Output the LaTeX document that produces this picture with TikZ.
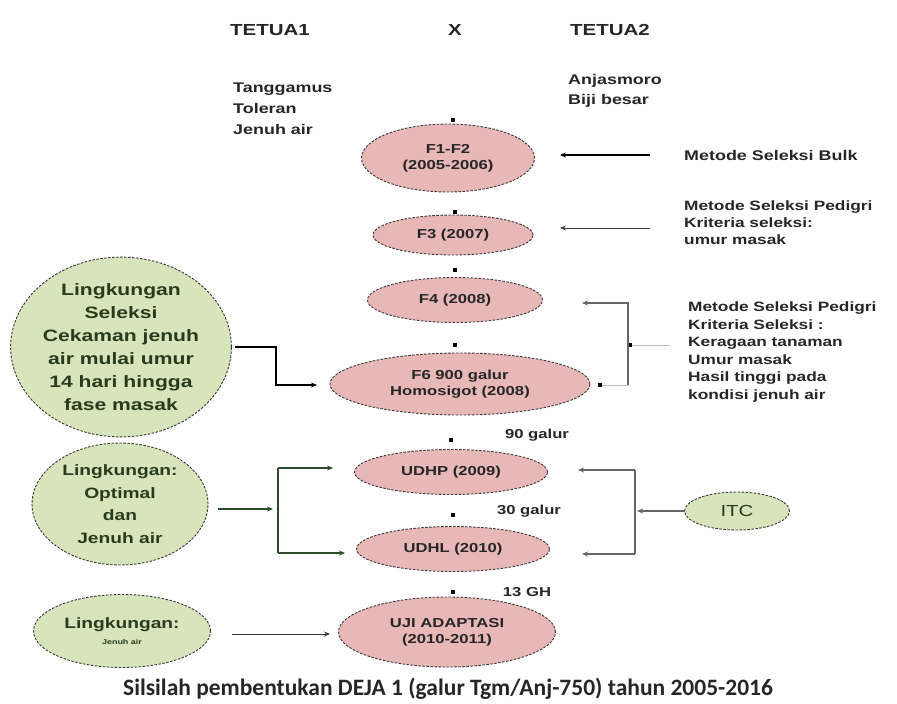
\documentclass[tikz,border=0pt]{standalone}
\usepackage{fontspec}
\setmainfont{Liberation Sans}[FakeStretch=1.28]
\newfontfamily\capfont{Carlito}
\usetikzlibrary{shapes.geometric,arrows.meta}
\definecolor{pinkfill}{RGB}{232,183,183}
\definecolor{greenfill}{RGB}{215,228,188}
\definecolor{edgecol}{RGB}{55,55,55}
\definecolor{gtext}{RGB}{40,60,28}
\definecolor{gline}{RGB}{45,75,45}
\begin{document}
\begin{tikzpicture}[x=1pt,y=-1pt,
  pinkell/.style={ellipse,draw=edgecol,dash pattern=on 2.5pt off 1.5pt,line width=0.9pt,fill=pinkfill,inner sep=0pt,align=center,font=\fontsize{13}{16}\selectfont\bfseries,text=black!85},
  greenell/.style={ellipse,draw=edgecol,dash pattern=on 2.5pt off 1.5pt,line width=0.9pt,fill=greenfill,inner sep=0pt,align=center,text=gtext},
  lbl/.style={inner sep=0pt,align=left,text=black!85,font=\fontsize{13}{17}\selectfont\bfseries},
  dotmark/.style={rectangle,fill=black,minimum size=3.5pt,inner sep=0pt},
  tip/.style={-{Stealth[length=6pt,width=5pt]}},
  thickarr/.style={tip,line width=1.6pt,black},
  thinarr/.style={tip,line width=0.8pt,black!75},
  grayarr/.style={tip,line width=1.2pt,black!60},
  greenarr/.style={tip,line width=1.3pt,gline}
]
\path[use as bounding box] (0,0) rectangle (897,704);

% headers
\node[lbl,font=\fontsize{16}{18}\selectfont\bfseries] (t1) at (270,30) {TETUA1};
\node[lbl,font=\fontsize{16}{18}\selectfont\bfseries] (tx) at (455,30) {X};
\node[lbl,font=\fontsize{16}{18}\selectfont\bfseries] (t2) at (610,30) {TETUA2};
\node[lbl,anchor=north west,font=\fontsize{14}{21}\selectfont\bfseries] (p1) at (233,83) {Tanggamus\\Toleran\\Jenuh air};
\node[lbl,anchor=north west,font=\fontsize{14}{20}\selectfont\bfseries] (p2) at (568,74) {Anjasmoro\\Biji besar};

% pink ellipses
\node[pinkell,minimum width=173pt,minimum height=68pt] (f12) at (448,158) {F1-F2\\(2005-2006)};
\node[pinkell,minimum width=160pt,minimum height=40pt] (f3) at (453,235) {F3 (2007)};
\node[pinkell,minimum width=175pt,minimum height=45pt] (f4) at (455,300) {F4 (2008)};
\node[pinkell,minimum width=260pt,minimum height=62pt] (f6) at (460,384) {F6 900 galur\\Homosigot (2008)};
\node[pinkell,minimum width=193pt,minimum height=45pt] (udhp) at (451,472) {UDHP (2009)};
\node[pinkell,minimum width=193pt,minimum height=45pt] (udhl) at (453,549) {UDHL (2010)};
\node[pinkell,minimum width=217pt,minimum height=70pt] (uji) at (447,632) {UJI ADAPTASI\\(2010-2011)};

% green ellipses
\node[greenell,minimum width=218pt,minimum height=171pt,font=\fontsize{16.5}{23}\selectfont\bfseries] (g1) at (121,347) {Lingkungan\\Seleksi\\Cekaman jenuh\\air mulai umur\\14 hari hingga\\fase masak};
\node[greenell,minimum width=176pt,minimum height=122pt,font=\fontsize{15}{22.5}\selectfont\bfseries] (g2) at (120,504) {Lingkungan:\\Optimal\\dan\\Jenuh air};
\node[greenell,minimum width=177pt,minimum height=73pt,font=\fontsize{15}{16}\selectfont\bfseries] (g3) at (122,631) {Lingkungan:\\{\fontsize{7}{9}\selectfont Jenuh air}};
\node[greenell,minimum width=105pt,minimum height=38pt,font=\fontsize{16}{18}\selectfont] (itc) at (737,511) {ITC};

% small labels
\node[lbl] (n90) at (537,435) {90 galur};
\node[lbl] (n30) at (529,511) {30 galur};
\node[lbl] (n13) at (527,592) {13 GH};

% right texts
\node[lbl,anchor=west,font=\fontsize{14}{17}\selectfont\bfseries] (m1) at (684,155) {Metode Seleksi Bulk};
\node[lbl,anchor=north west,font=\fontsize{13.5}{17}\selectfont\bfseries] (m2) at (684,201) {Metode Seleksi Pedigri\\Kriteria seleksi:\\umur  masak};
\node[lbl,anchor=north west,font=\fontsize{13.5}{17.5}\selectfont\bfseries] (m3) at (688,302) {Metode Seleksi Pedigri\\Kriteria Seleksi :\\Keragaan tanaman\\Umur masak\\Hasil tinggi pada\\kondisi jenuh air};

% dots (arrow tips between generations)
\node[dotmark] (d1) at (453,120) {};
\node[dotmark] (d2) at (455,212) {};
\node[dotmark] (d3) at (455,270) {};
\node[dotmark] (d4) at (455,345) {};
\node[dotmark] (d5) at (451,440) {};
\node[dotmark] (d6) at (453,515) {};
\node[dotmark] (d7) at (453,592) {};
\node[dotmark] (d8) at (630,345) {};
\node[dotmark] (d9) at (600,385) {};

% connector end points
\coordinate (e1s) at (650,155); \coordinate (e1t) at (560,155);
\coordinate (e2s) at (650,228); \coordinate (e2t) at (560,228);
\coordinate (bk1) at (628,385); \coordinate (bk2) at (628,303); \coordinate (bkt) at (582,303);
\coordinate (bkr) at (670,345);
\coordinate (a0) at (235,347); \coordinate (a1) at (276,347); \coordinate (a2) at (276,385); \coordinate (a3) at (317,385);
\coordinate (o0) at (218,509); \coordinate (o1) at (273,509);
\coordinate (b1) at (278,468); \coordinate (b2) at (278,553);
\coordinate (b1t) at (333,468); \coordinate (b2t) at (345,553);
\coordinate (j0) at (232,634); \coordinate (j1) at (330,634);
\coordinate (i0) at (685,511); \coordinate (i1) at (637,511);
\coordinate (c1) at (635,470); \coordinate (c2) at (635,554);
\coordinate (c1t) at (578,470); \coordinate (c2t) at (582,554);

% arrows from right texts
\draw[thickarr] (e1s) -- (e1t);
\draw[thinarr] (e2s) -- (e2t);
\draw[line width=0.6pt,black!25] (d9) -- (bk1);
\draw[grayarr] (bk1) -- (bk2) -- (bkt);
\draw[line width=0.6pt,black!25] (d8) -- (bkr);

% arrows from green ellipses
\draw[thickarr] (a0) -- (a1) -- (a2) -- (a3);
\draw[greenarr] (o0) -- (o1);
\draw[line width=1.3pt,gline] (b1) -- (b2);
\draw[greenarr] (b1) -- (b1t);
\draw[greenarr] (b2) -- (b2t);
\draw[thinarr,black!80] (j0) -- (j1);

% ITC
\draw[grayarr] (i0) -- (i1);
\draw[line width=1.2pt,black!60] (c1) -- (c2);
\draw[grayarr] (c1) -- (c1t);
\draw[grayarr] (c2) -- (c2t);

% caption
\node[inner sep=0pt,font=\capfont\fontsize{23.5}{26}\selectfont\bfseries,text=black!85] (cap) at (448,689) {Silsilah pembentukan DEJA 1 (galur Tgm/Anj-750) tahun 2005-2016};
\end{tikzpicture}
\end{document}
